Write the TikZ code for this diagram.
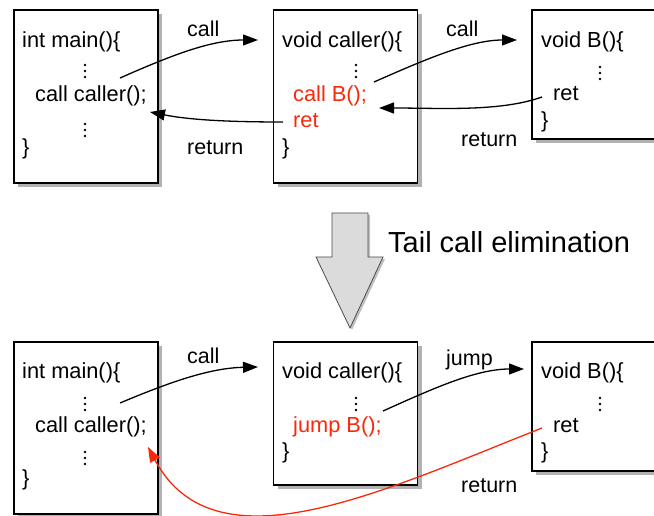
\documentclass[tikz,border=0pt]{standalone}
\usepackage{fontspec}
\setmainfont{Liberation Sans}
\usetikzlibrary{arrows.meta,shadows}
\definecolor{codered}{RGB}{250,40,10}
\tikzset{
  x=1pt, y=-1pt,
  box/.style={draw=black, line width=1.7pt, fill=white, minimum width=144pt, minimum height=172pt, inner sep=0pt,
    drop shadow={shadow xshift=4pt, shadow yshift=-4pt, opacity=0.3, fill=black}},
  code/.style={anchor=base west, inner sep=0pt, font=\fontsize{21.8}{25}\selectfont},
  redcode/.style={code, text=codered},
  lbl/.style={anchor=base west, inner sep=0pt, font=\fontsize{21.5}{25}\selectfont},
  conn/.style={line width=1.3pt, -{Triangle[length=15pt, width=11pt]}},
  dot/.style={circle, fill=black, inner sep=0pt, minimum size=2.6pt},
}
\newcommand{\vdotsat}[3]{%
  \node[dot] (#3a) at (#1,#2-6) {};
  \node[dot] (#3b) at (#1,#2) {};
  \node[dot] (#3c) at (#1,#2+6) {};
}
\begin{document}
\begin{tikzpicture}
\useasboundingbox (0,0) rectangle (654,516);
\clip (0,0) rectangle (654,516);

% ---------- top row ----------
\node[box, minimum height=173pt] (mainT) at (86,96.5) {};
\node[box, minimum height=173pt] (callerT) at (345.5,96.5) {};
\node[box, minimum width=134pt, minimum height=129pt] (BT) at (599,74.5) {};

\node[code] (mT1) at (22,48) {int main()\{};
\vdotsat{85}{71}{mTd}
\node[code] (mT2) at (35,102) {call caller();};
\vdotsat{85}{130}{mTe}
\node[code] (mT3) at (22,155) {\}};

\node[code] (cT1) at (282,48) {void caller()\{};
\vdotsat{356}{71}{cTd}
\node[redcode] (cT2) at (293,102) {call B();};
\node[redcode] (cT3) at (293,128) {ret};
\node[code] (cT4) at (282,155) {\}};

\node[code] (bT1) at (541,48) {void B()\{};
\vdotsat{600}{73}{bTd}
\node[code] (bT2) at (553,101) {ret};
\node[code] (bT3) at (541,128) {\}};

\coordinate (a1s) at (120,78);  \coordinate (a1e) at (258,40);
\coordinate (r1s) at (283,122); \coordinate (r1e) at (150,112);
\coordinate (a2s) at (374,82);  \coordinate (a2e) at (517,40);
\coordinate (r2s) at (542,97);  \coordinate (r2e) at (379,108);

\draw[conn] (a1s) .. controls (170,56) and (210,40) .. (a1e);
\draw[conn] (r1s) .. controls (230,122) and (190,120) .. (r1e);
\draw[conn] (a2s) .. controls (424,60) and (470,40) .. (a2e);
\draw[conn] (r2s) .. controls (500,112) and (440,108) .. (r2e);

\node[lbl] (lc1) at (187,37) {call};
\node[lbl] (lr1) at (187,155) {return};
\node[lbl] (lc2) at (446,37) {call};
\node[lbl] (lr2) at (461,147) {return};

% ---------- big arrow ----------
\draw[fill=gray!28, draw=gray!60!black, line width=0.8pt,
  drop shadow={shadow xshift=2pt, shadow yshift=-2pt, opacity=0.25, fill=black}]
  (332,213) -- (368,213) -- (368,257) -- (383,257) -- (350,328) -- (316,257) -- (332,257) -- cycle;
\node[anchor=base west, inner sep=0pt, font=\fontsize{29}{33}\selectfont] (title) at (388,253) {Tail call elimination};

% ---------- bottom row ----------
\node[box] (mainB) at (86,428) {};
\node[box, minimum height=143pt] (callerB) at (345.5,413.5) {};
\node[box, minimum width=134pt, minimum height=129pt] (BB) at (599,406.5) {};

\node[code] (mB1) at (22,378) {int main()\{};
\vdotsat{85}{404}{mBd}
\node[code] (mB2) at (35,432) {call caller();};
\vdotsat{85}{458}{mBe}
\node[code] (mB3) at (22,485) {\}};

\node[code] (cB1) at (282,378) {void caller()\{};
\vdotsat{356}{404}{cBd}
\node[redcode] (cB2) at (293,432) {jump B();};
\node[code] (cB3) at (282,458) {\}};

\node[code] (bB1) at (541,378) {void B()\{};
\vdotsat{600}{404}{bBd}
\node[code] (bB2) at (553,432) {ret};
\node[code] (bB3) at (541,458) {\}};

\coordinate (a3s) at (120,403); \coordinate (a3e) at (258,367);
\coordinate (j3s) at (383,411); \coordinate (j3e) at (524,369);
\coordinate (r3s) at (542,428); \coordinate (r3e) at (148,447);

\draw[conn] (a3s) .. controls (170,382) and (210,368) .. (a3e);
\draw[conn] (j3s) .. controls (430,390) and (475,369) .. (j3e);
\draw[conn, color=codered] (r3s) .. controls (380,492) and (215,572) .. (r3e);

\node[lbl] (lc3) at (187,363) {call};
\node[lbl] (lj3) at (446,365) {jump};
\node[lbl] (lr3) at (461,492) {return};
\end{tikzpicture}
\end{document}
